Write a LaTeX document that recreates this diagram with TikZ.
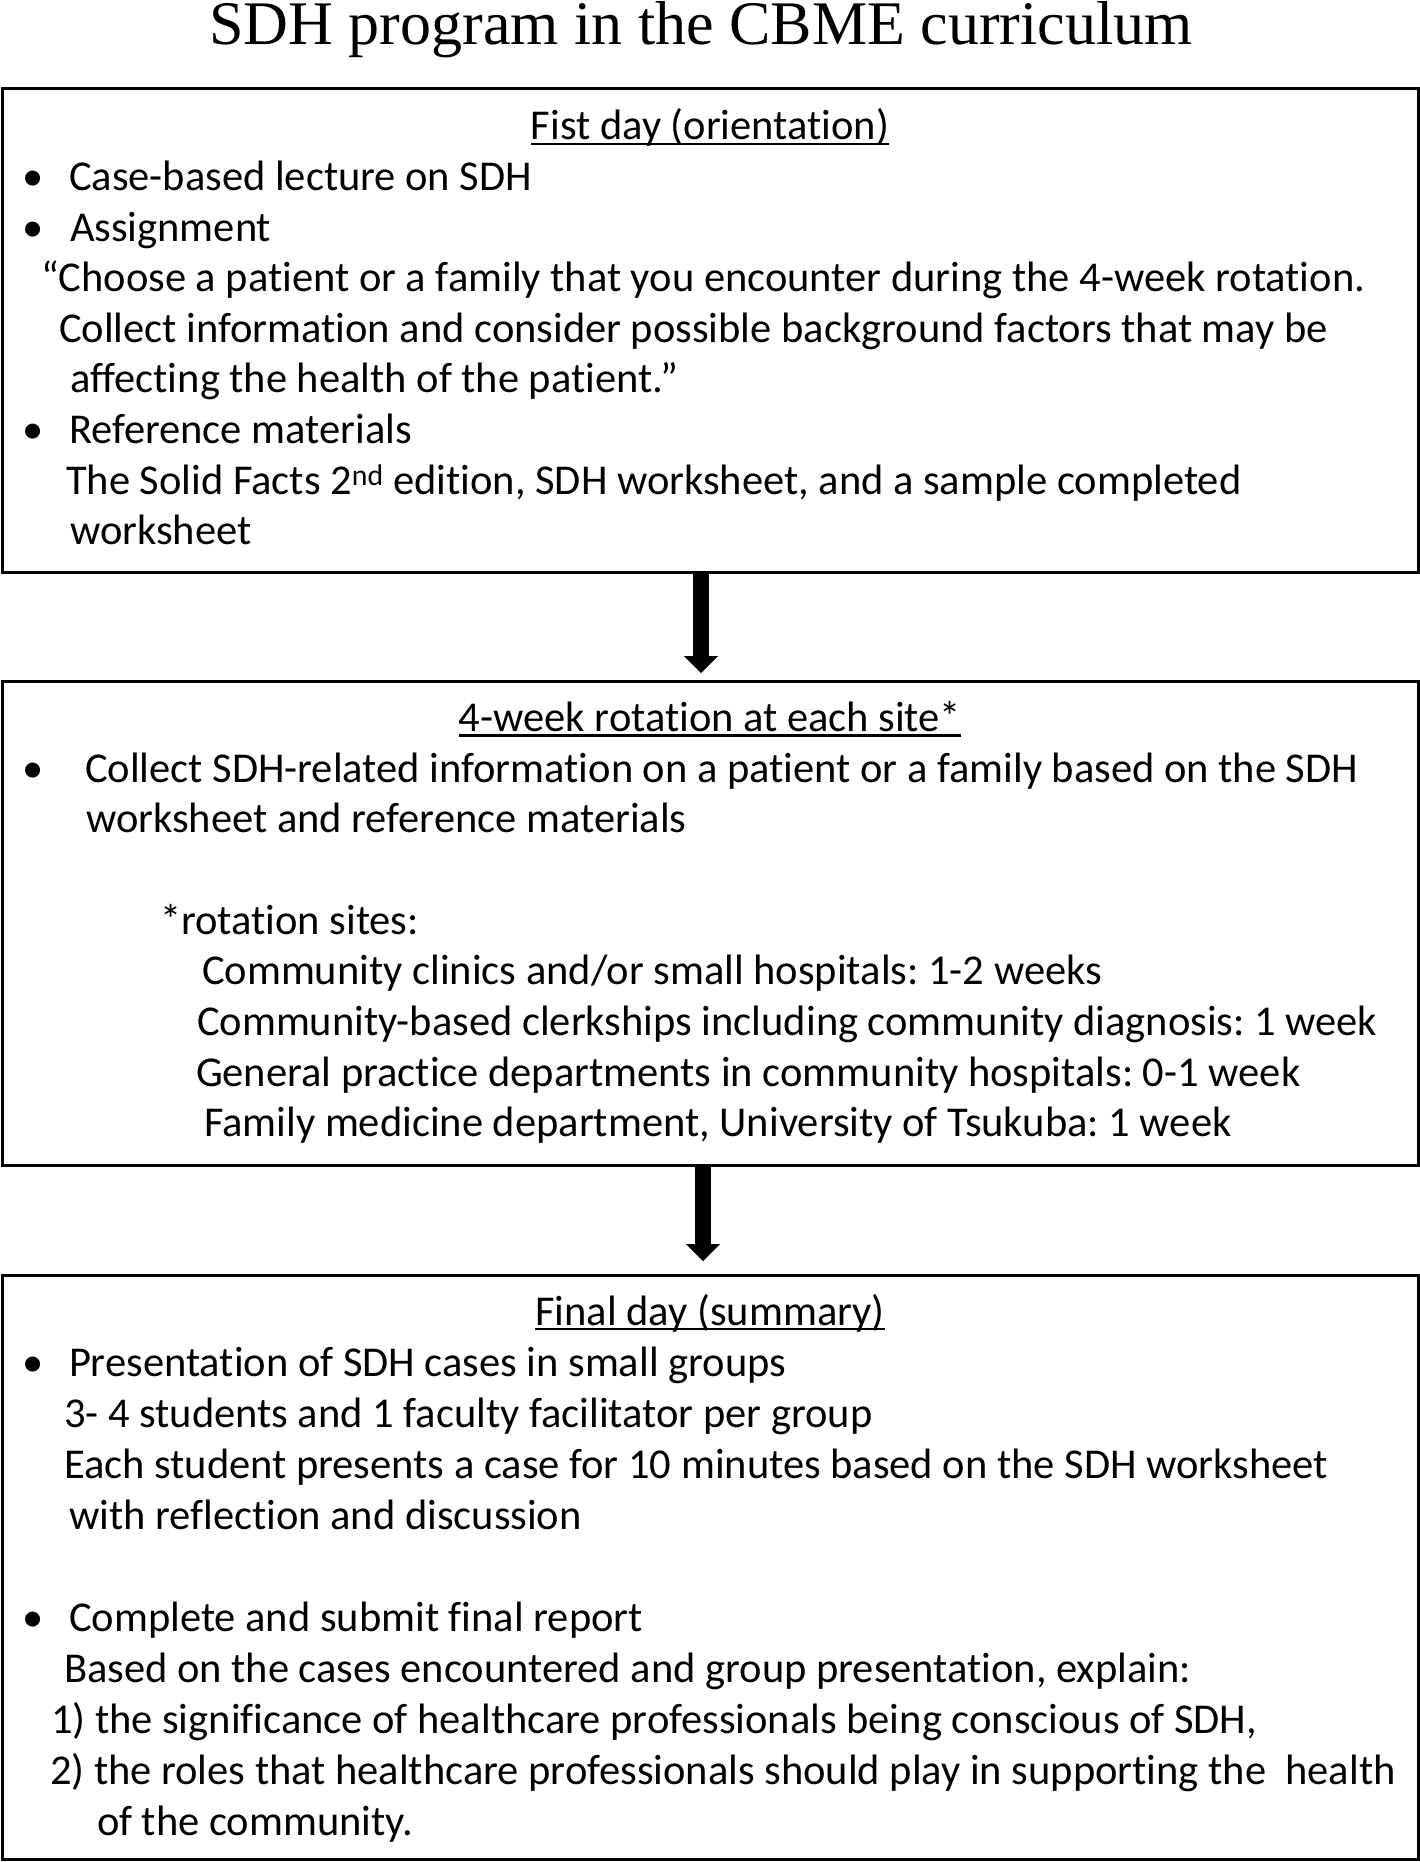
\documentclass[tikz,border=0pt]{standalone}
\usepackage{fontspec}
\setmainfont{Carlito}[Ligatures=NoCommon]
\newfontfamily\titlefam{Liberation Serif}
\usetikzlibrary{arrows.meta}
\frenchspacing
\newcommand{\bodyfont}{\fontsize{42.5}{50.6}\selectfont}
\newcommand{\titlefont}{\titlefam\fontsize{62}{70}\selectfont}
\tikzset{
  txt/.style={inner sep=0pt, outer sep=0pt, anchor=base west, font=\bodyfont},
  head/.style={inner sep=0pt, outer sep=0pt, anchor=base, font=\bodyfont},
  boxstyle/.style={draw=black, line width=3pt, inner sep=0pt, outer sep=0pt, minimum width=1416pt},
  uline/.style={line width=2.2pt},
  bigarrow/.style={line width=16pt, -{Triangle[width=34pt,length=17pt,line width=0.1pt]}}
}
\begin{document}
\begin{tikzpicture}[x=1pt,y=-1pt]
\useasboundingbox[fill=white] (0,0) rectangle (1420,1862);
% title
\node[inner sep=0pt, anchor=base, font=\titlefont] (title) at (701,44.5) {SDH program in the CBME curriculum};
% boxes
\node[boxstyle, minimum height=483pt] (b1) at (710,330.5) {};
\node[boxstyle, minimum height=484pt] (b2) at (710,923) {};
\node[boxstyle, minimum height=584pt] (b3) at (710,1567) {};
% arrows
\draw[bigarrow] ([xshift=-9pt]b1.south) -- ([xshift=-9pt,yshift=8pt]b2.north);
\draw[bigarrow] ([xshift=-7pt]b2.south) -- ([xshift=-7pt,yshift=14pt]b3.north);
% box 1
\node[head] (h1) at (710,139.9) {Fist day (orientation)};
\draw[uline] ([yshift=-4pt]h1.base west) -- ([yshift=-4pt]h1.base east);
\node[txt] (p1a) at (23,190.5) {•};
\node[txt] (t1a) at (69,190.5) {Case-based lecture on SDH};
\node[txt] (p1b) at (23,241.1) {•};
\node[txt] (t1b) at (70,241.1) {Assignment};
\node[txt] (t1c) at (41,291.7) {“Choose a patient or a family that you encounter during the 4-week rotation.};
\node[txt] (t1d) at (59,342.3) {Collect information and consider possible background factors that may be};
\node[txt] (t1e) at (70,392.9) {affecting the health of the patient.”};
\node[txt] (p1c) at (23,443.5) {•};
\node[txt] (t1f) at (69,443.5) {Reference materials};
\node[txt] (t1g) at (66,494.1) {The Solid Facts 2\textsuperscript{nd} edition, SDH worksheet, and a sample completed};
\node[txt] (t1h) at (70,544.7) {worksheet};
% box 2
\node[head] (h2) at (710,731.5) {4-week rotation at each site*};
\draw[uline] ([yshift=-4pt]h2.base west) -- ([yshift=-4pt]h2.base east);
\node[txt] (p2a) at (23,782) {•};
\node[txt] (t2a) at (85,782) {Collect SDH-related information on a patient or a family based on the SDH};
\node[txt] (t2b) at (86,832.6) {worksheet and reference materials};
\node[txt] (t2c) at (160,934) {*rotation sites:};
\node[txt] (t2d) at (202,984.8) {Community clinics and/or small hospitals: 1-2 weeks};
\node[txt] (t2e) at (197,1035.4) {Community-based clerkships including community diagnosis: 1 week};
\node[txt] (t2f) at (196,1086) {General practice departments in community hospitals: 0-1 week};
\node[txt] (t2g) at (204,1136.6) {Family medicine department, University of Tsukuba: 1 week};
% box 3
\node[head] (h3) at (710,1325) {Final day (summary)};
\draw[uline] ([yshift=-4pt]h3.base west) -- ([yshift=-4pt]h3.base east);
\node[txt] (p3a) at (23,1376) {•};
\node[txt] (t3a) at (69,1376) {Presentation of SDH cases in small groups};
\node[txt] (t3b) at (64,1427) {3- 4 students and 1 faculty facilitator per group};
\node[txt] (t3c) at (64,1478) {Each student presents a case for 10 minutes based on the SDH worksheet};
\node[txt] (t3d) at (69,1529) {with reflection and discussion};
\node[txt] (p3b) at (23,1631) {•};
\node[txt] (t3e) at (69,1631) {Complete and submit final report};
\node[txt] (t3f) at (64,1682) {Based on the cases encountered and group presentation, explain:};
\node[txt] (t3g) at (51,1733) {1) the significance of healthcare professionals being conscious of SDH,};
\node[txt] (t3h) at (50,1784) {2) the roles that healthcare professionals should play in supporting the~~health};
\node[txt] (t3i) at (97,1835) {of the community.};
\end{tikzpicture}
\end{document}
